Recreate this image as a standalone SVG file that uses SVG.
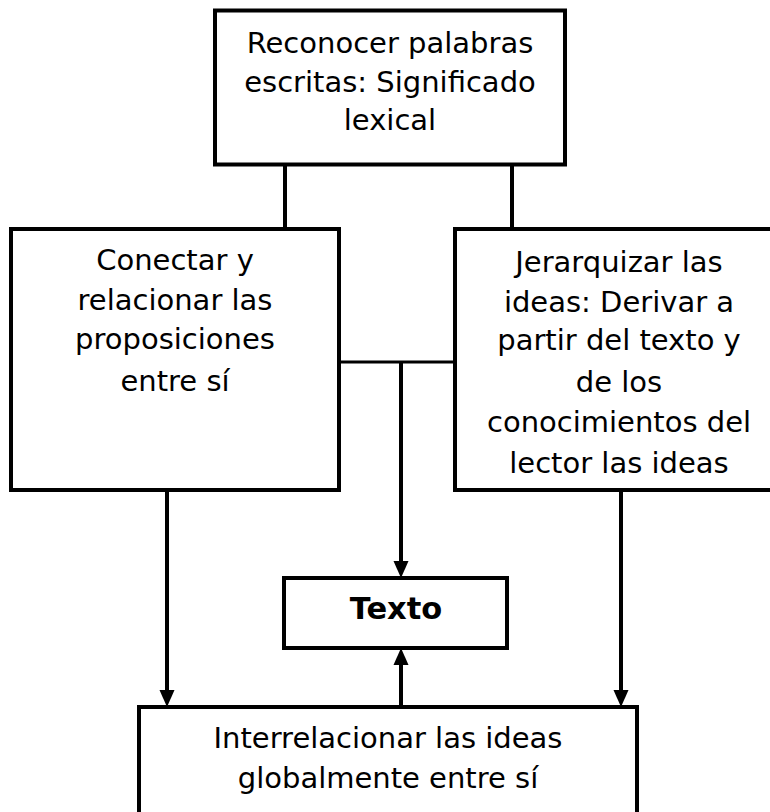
<svg xmlns="http://www.w3.org/2000/svg" width="770" height="812" viewBox="0 0 770 812">
<defs>
<style>
.box{fill:#fff;stroke:#000;stroke-width:4}
.t{font-family:"DejaVu Sans",Verdana,sans-serif;font-size:29px;fill:#000;text-anchor:middle}
.b{font-weight:bold;font-size:30.5px}
.c{stroke:#000;stroke-width:4;fill:none}
.ah{fill:#000}
</style>
</defs>
<rect width="770" height="812" fill="#fff"/>
<g id="connectors">
<line class="c" x1="285" y1="164" x2="285" y2="229"/>
<line class="c" x1="512" y1="164" x2="512" y2="229"/>
<line class="c" x1="339" y1="362" x2="455" y2="362" style="stroke-width:3"/>
<path d="M401,362 L401,562" class="c"/>
<polygon class="ah" points="393.5,561 408.5,561 401,578"/>
<path d="M167,490 L167,691" class="c"/>
<polygon class="ah" points="159.5,690 174.5,690 167,707"/>
<path d="M621,490 L621,691" class="c"/>
<polygon class="ah" points="613.5,690 628.5,690 621,707"/>
<path d="M401,707 L401,664" class="c"/>
<polygon class="ah" points="393.5,665 408.5,665 401,648"/>
</g>
<g id="n1">
<rect class="box" x="215" y="10.5" width="350" height="154"/>
<text class="t" x="390" y="53">Reconocer palabras</text>
<text class="t" x="390" y="92">escritas: Significado</text>
<text class="t" x="390" y="130">lexical</text>
</g>
<g id="n2">
<rect class="box" x="11" y="229" width="328" height="261"/>
<text class="t" x="175" y="270">Conectar y</text>
<text class="t" x="175" y="310">relacionar las</text>
<text class="t" x="175" y="349">proposiciones</text>
<text class="t" x="175" y="391">entre sí</text>
</g>
<g id="n3">
<rect class="box" x="455" y="229" width="330" height="261"/>
<text class="t" x="619" y="272">Jerarquizar las</text>
<text class="t" x="619" y="312">ideas: Derivar a</text>
<text class="t" x="619" y="350">partir del texto y</text>
<text class="t" x="619" y="392">de los</text>
<text class="t" x="619" y="432">conocimientos del</text>
<text class="t" x="619" y="473">lector las ideas</text>
</g>
<g id="n4">
<rect class="box" x="284" y="578" width="223" height="70"/>
<text class="t b" x="396" y="619">Texto</text>
</g>
<g id="n5">
<rect class="box" x="139" y="707" width="498" height="130"/>
<text class="t" x="388" y="748">Interrelacionar las ideas</text>
<text class="t" x="388" y="788">globalmente entre sí</text>
</g>
</svg>
